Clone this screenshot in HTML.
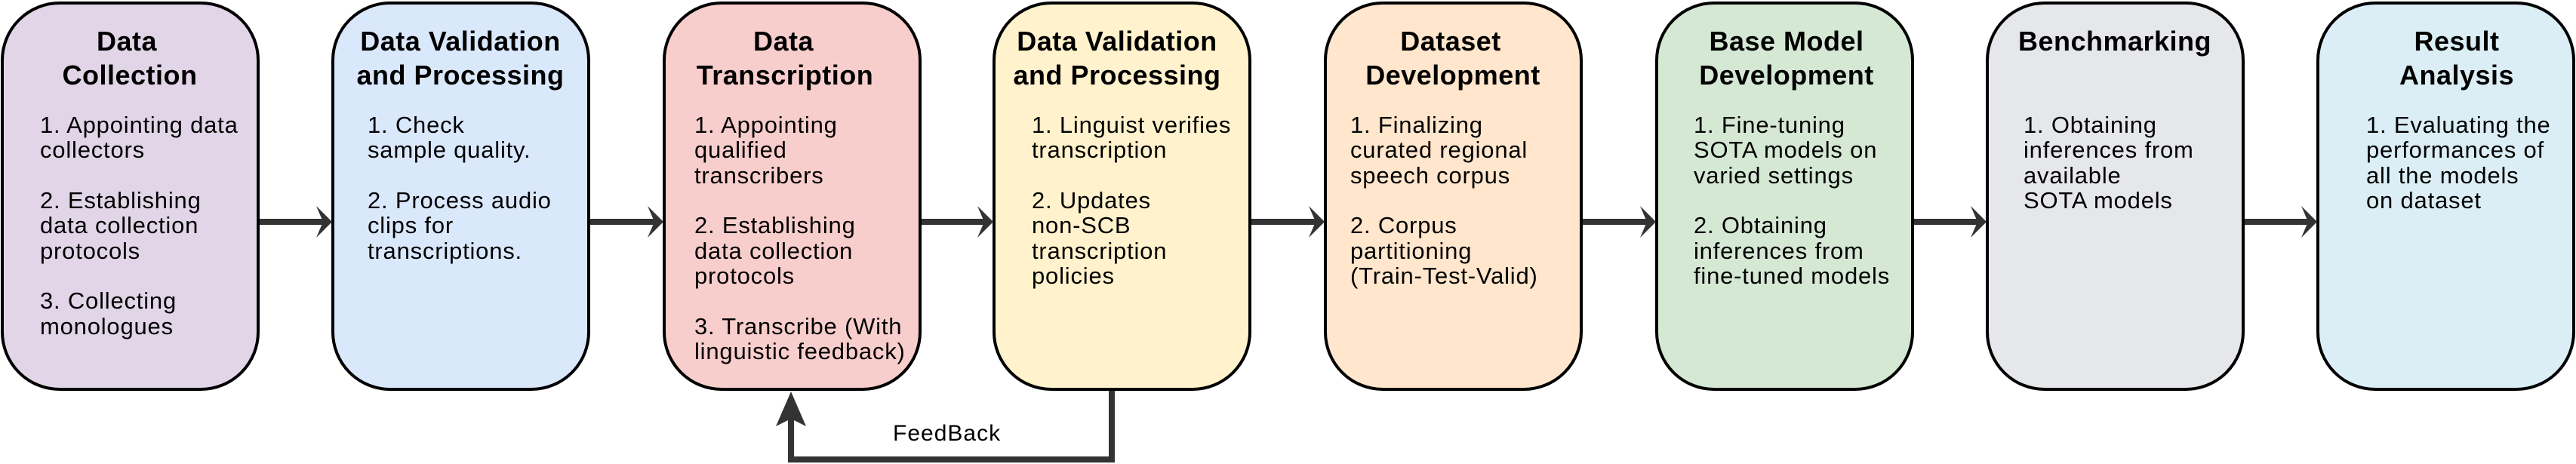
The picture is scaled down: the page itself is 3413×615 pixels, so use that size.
<!DOCTYPE html>
<html><head><meta charset="utf-8"><style>
html,body{margin:0;padding:0;background:#fff;}
svg{display:block;}
.t{font-family:"Liberation Sans",Arial,sans-serif;font-weight:bold;font-size:36px;letter-spacing:0.5px;fill:#000;}
.b{font-family:"Liberation Sans",Arial,sans-serif;font-size:31px;letter-spacing:0.8px;fill:#000;}
</style></head><body>
<svg width="3413" height="615" viewBox="0 0 3413 615" xmlns="http://www.w3.org/2000/svg">
<g stroke="#000" stroke-width="4">
<rect x="3" y="4" width="339" height="512" rx="76" ry="76" fill="#e1d5e7"/>
<rect x="441" y="4" width="339" height="512" rx="76" ry="76" fill="#dae8fc"/>
<rect x="880" y="4" width="339" height="512" rx="76" ry="76" fill="#f8cecc"/>
<rect x="1317" y="4" width="339" height="512" rx="76" ry="76" fill="#fff2cc"/>
<rect x="1756" y="4" width="339" height="512" rx="76" ry="76" fill="#ffe6cc"/>
<rect x="2195" y="4" width="339" height="512" rx="76" ry="76" fill="#d5e8d4"/>
<rect x="2633" y="4" width="339" height="512" rx="76" ry="76" fill="#e6e7ea"/>
<rect x="3071" y="4" width="339" height="512" rx="76" ry="76" fill="#dbeef5"/>
</g>
<!-- arrows -->
<g stroke="#333" stroke-width="8" fill="none">
<line x1="344" y1="294" x2="428" y2="294"/>
<line x1="782" y1="294" x2="867" y2="294"/>
<line x1="1221" y1="294" x2="1304" y2="294"/>
<line x1="1658" y1="294" x2="1743" y2="294"/>
<line x1="2097" y1="294" x2="2182" y2="294"/>
<line x1="2536" y1="294" x2="2620" y2="294"/>
<line x1="2974" y1="294" x2="3058" y2="294"/>
<polyline points="1473,518 1473,609 1048,609 1048,555"/>
</g>
<g fill="#333">
<polygon points="440,294 419,273 428,294 419,315"/>
<polygon points="879,294 858,273 867,294 858,315"/>
<polygon points="1316,294 1295,273 1304,294 1295,315"/>
<polygon points="1755,294 1734,273 1743,294 1734,315"/>
<polygon points="2194,294 2173,273 2182,294 2173,315"/>
<polygon points="2632,294 2611,273 2620,294 2611,315"/>
<polygon points="3070,294 3049,273 3058,294 3049,315"/>
<polygon points="1048,519 1028,565 1048,555 1068,565"/>
</g>
<text class="b" x="1183" y="584" style="font-size:30px;letter-spacing:1px">FeedBack</text>
<!-- titles -->
<g class="t" text-anchor="middle">
<text x="168" y="67">Data</text><text x="172" y="112">Collection</text>
<text x="610" y="67">Data Validation</text><text x="610" y="112">and Processing</text>
<text x="1038" y="67">Data</text><text x="1040" y="112">Transcription</text>
<text x="1480" y="67">Data Validation</text><text x="1480" y="112">and Processing</text>
<text x="1922" y="67">Dataset</text><text x="1925" y="112">Development</text>
<text x="2367" y="67">Base Model</text><text x="2367" y="112">Development</text>
<text x="2802" y="67">Benchmarking</text>
<text x="3255" y="67">Result</text><text x="3255" y="112">Analysis</text>
</g>
<!-- bodies -->
<g class="b">
<text x="53" y="176">1. Appointing data</text>
<text x="53" y="209">collectors</text>
<text x="53" y="276">2. Establishing</text>
<text x="53" y="309">data collection</text>
<text x="53" y="343">protocols</text>
<text x="53" y="409">3. Collecting</text>
<text x="53" y="443">monologues</text>

<text x="487" y="176">1. Check</text>
<text x="487" y="209">sample quality.</text>
<text x="487" y="276">2. Process audio</text>
<text x="487" y="309">clips for</text>
<text x="487" y="343">transcriptions.</text>

<text x="920" y="176">1. Appointing</text>
<text x="920" y="209">qualified</text>
<text x="920" y="243">transcribers</text>
<text x="920" y="309">2.  Establishing</text>
<text x="920" y="343">data collection</text>
<text x="920" y="376">protocols</text>
<text x="920" y="443">3. Transcribe (With</text>
<text x="920" y="476">linguistic feedback)</text>

<text x="1367" y="176">1. Linguist verifies</text>
<text x="1367" y="209">transcription</text>
<text x="1367" y="276">2. Updates</text>
<text x="1367" y="309">non-SCB</text>
<text x="1367" y="343">transcription</text>
<text x="1367" y="376">policies</text>

<text x="1789" y="176">1. Finalizing</text>
<text x="1789" y="209">curated regional</text>
<text x="1789" y="243">speech corpus</text>
<text x="1789" y="309">2. Corpus</text>
<text x="1789" y="343">partitioning</text>
<text x="1789" y="376">(Train-Test-Valid)</text>

<text x="2244" y="176">1. Fine-tuning</text>
<text x="2244" y="209">SOTA models on</text>
<text x="2244" y="243">varied settings</text>
<text x="2244" y="309">2. Obtaining</text>
<text x="2244" y="343">inferences from</text>
<text x="2244" y="376">fine-tuned models</text>

<text x="2681" y="176">1. Obtaining</text>
<text x="2681" y="209">inferences from</text>
<text x="2681" y="243">available</text>
<text x="2681" y="276">SOTA models</text>

<text x="3135" y="176">1. Evaluating the</text>
<text x="3135" y="209">performances of</text>
<text x="3135" y="243">all the models</text>
<text x="3135" y="276">on dataset</text>
</g>
</svg>
</body></html>
